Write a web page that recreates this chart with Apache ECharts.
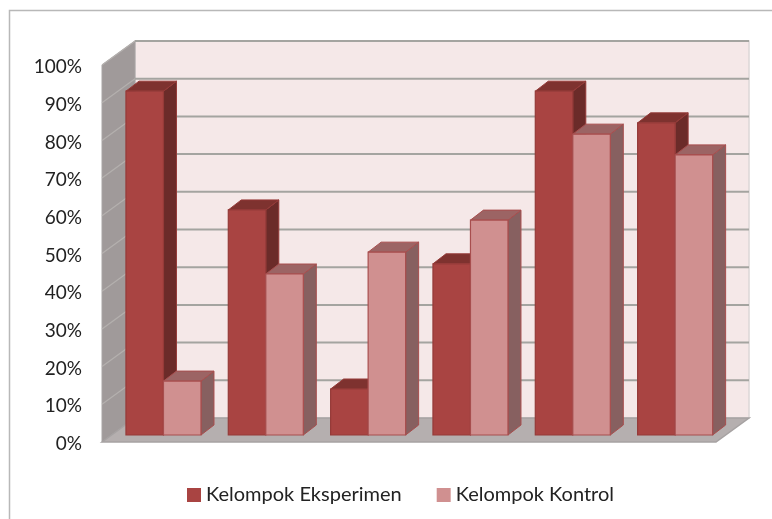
<!DOCTYPE html>
<html>
<head>
<meta charset="utf-8">
<style>
  html, body { margin: 0; padding: 0; background: #fff; }
  #main { width: 772px; height: 519px; }
</style>
<script src="https://cdn.jsdelivr.net/npm/echarts@6/dist/echarts.min.js"></script>
</head>
<body>
<div id="main"></div>
<script>
var categories = ['1', '2', '3', '4', '5', '6'];
var eksperimen = [91.2, 59.7, 12.2, 45.4, 91.2, 82.8];
var kontrol = [14.3, 42.7, 48.5, 57, 79.8, 74.3];
var yTicks = [0, 10, 20, 30, 40, 50, 60, 70, 80, 90, 100];

// depth of the fake 3d box and of the bars, in px
var wallDx = 33, wallDy = -24;
var barDx = 13, barDy = -10;
var frontDx = 10.3, baseDy = -7;

var myChart = echarts.init(document.getElementById('main'));

function poly(points, fill, stroke, lineWidth) {
  return {
    type: 'polygon',
    shape: { points: points },
    style: { fill: fill, stroke: stroke || null, lineWidth: lineWidth || 0 }
  };
}

// one box of a bar pair: front face, top and side
function barItem(slot, colors) {
  return function (params, api) {
    var p = api.coord([api.value(0), api.value(1)]);
    var band = api.size([1, 0])[0];
    var w = band * 0.3665;
    var x = p[0] + frontDx + (slot === 0 ? -w : 0);
    var top = p[1] + baseDy;
    var bottom = api.coord([api.value(0), 0])[1] + baseDy;
    return {
      type: 'group',
      children: [
        poly([[x + w, top], [x + w + barDx, top + barDy], [x + w + barDx, bottom + barDy], [x + w, bottom]], colors.side, colors.stroke, 1),
        poly([[x, top], [x + barDx, top + barDy], [x + w + barDx, top + barDy], [x + w, top]], colors.top, colors.stroke, 1),
        poly([[x, top], [x + w, top], [x + w, bottom], [x, bottom]], colors.front, colors.stroke, 1.2)
      ]
    };
  };
}

// walls and floor drawn once, at the first tick
function wallItem(params, api) {
  var g = params.coordSys;
  var v = api.value(0);
  var y = api.coord([0, v])[1];
  var left = g.x, right = g.x + g.width, bottom = g.y + g.height, top = g.y;
  var children = [];
  if (params.dataIndex === 0) {
    children.push(poly([[left + wallDx, top + wallDy], [right + wallDx, top + wallDy], [right + wallDx, bottom + wallDy], [left + wallDx, bottom + wallDy]], '#f5e8e8', '#dcd6d6', 1.5));
    children.push(poly([[left, top], [left + wallDx, top + wallDy], [left + wallDx, bottom + wallDy], [left, bottom]], '#a09a9a', '#a8a4a4', 1));
  }
  return { type: 'group', children: children.concat(v === 0 ? [] : [
    { type: 'line', shape: { x1: left, y1: y, x2: left + wallDx, y2: y + wallDy }, style: { stroke: '#b4b0ae', lineWidth: 1.2 } },
    { type: 'line', shape: { x1: left + wallDx, y1: y + wallDy, x2: right + wallDx, y2: y + wallDy }, style: { stroke: '#a4a4a0', lineWidth: 2 } }
  ]) };
}

function floorItem(params) {
  var g = params.coordSys;
  var left = g.x, right = g.x + g.width, bottom = g.y + g.height;
  return poly([[left, bottom], [left + wallDx, bottom + wallDy], [right + wallDx, bottom + wallDy], [right, bottom]], '#b5afaf', '#a6a2a2', 1.5);
}

myChart.setOption({
  animation: false,
  backgroundColor: '#fff',
  textStyle: { fontFamily: 'Lato' },
  graphic: [
    { type: 'polyline', silent: true, shape: { points: [[9.5, 519], [9.5, 10.5], [772, 10.5]] }, style: { fill: null, stroke: '#b8b8b8', lineWidth: 1.5 } }
  ],
  legend: {
    data: ['Kelompok Eksperimen', 'Kelompok Kontrol'],
    left: 182,
    top: 480,
    icon: 'rect',
    itemWidth: 14,
    itemHeight: 14,
    itemGap: 35,
    textStyle: { fontFamily: 'Lato', fontSize: 20, color: '#222' }
  },
  grid: { left: 102, right: 56, top: 65, bottom: 77 },
  xAxis: {
    type: 'category',
    data: categories,
    axisLabel: { show: false },
    axisTick: { show: false },
    axisLine: { show: false },
    splitLine: { show: false }
  },
  yAxis: {
    type: 'value',
    min: 0,
    max: 100,
    interval: 10,
    // small line box from the tick down: nudges the labels about 2px lower
    axisLabel: { formatter: '{value}%', fontFamily: 'Lato', fontSize: 19, color: '#222', margin: 20, verticalAlign: 'top', lineHeight: 4 },
    axisTick: { show: false },
    axisLine: { show: false },
    splitLine: { show: false }
  },
  series: [
    {
      type: 'custom', silent: true, clip: false, z: 1,
      data: yTicks.map(function (t) { return [t]; }),
      encode: { y: 0 },
      renderItem: wallItem
    },
    {
      type: 'custom', silent: true, clip: false, z: 2,
      data: [[0]],
      renderItem: floorItem
    },
    {
      name: 'Kelompok Eksperimen',
      type: 'custom', silent: true, clip: false, z: 3,
      itemStyle: { color: '#a94442' },
      data: eksperimen.map(function (v, i) { return [i, v]; }),
      encode: { x: 0, y: 1 },
      renderItem: barItem(0, { front: '#a94442', top: '#7e322f', side: '#6b2b29', stroke: '#953a38' })
    },
    {
      name: 'Kelompok Kontrol',
      type: 'custom', silent: true, clip: false, z: 4,
      itemStyle: { color: '#d09090' },
      data: kontrol.map(function (v, i) { return [i, v]; }),
      encode: { x: 0, y: 1 },
      renderItem: barItem(1, { front: '#d09090', top: '#9c6464', side: '#876060', stroke: '#a84e4e' })
    }
  ]
});
</script>
</body>
</html>
